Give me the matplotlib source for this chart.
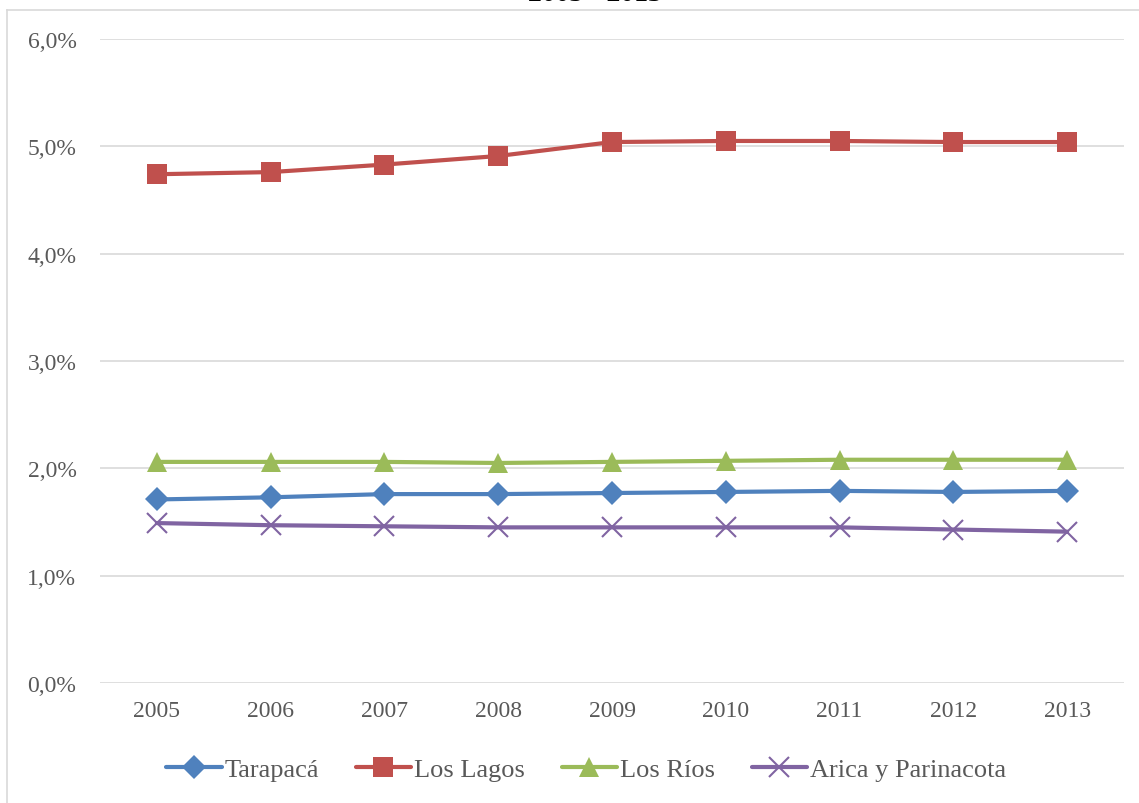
import matplotlib
matplotlib.use("Agg")
import matplotlib.pyplot as plt
from matplotlib.lines import Line2D
from matplotlib.ticker import FuncFormatter

YEARS = ["2005", "2006", "2007", "2008", "2009", "2010", "2011", "2012", "2013"]
TARAPACA = [1.71, 1.73, 1.76, 1.76, 1.77, 1.78, 1.79, 1.78, 1.79]
LOS_LAGOS = [4.74, 4.76, 4.83, 4.91, 5.04, 5.05, 5.05, 5.04, 5.04]
LOS_RIOS = [2.06, 2.06, 2.06, 2.05, 2.06, 2.07, 2.08, 2.08, 2.08]
ARICA = [1.49, 1.47, 1.46, 1.45, 1.45, 1.45, 1.45, 1.43, 1.41]
SERIES_NAMES = ["Tarapacá", "Los Lagos", "Los Ríos", "Arica y Parinacota"]

STYLES = [
    dict(color="#4F81BD", marker="D", ms=12),
    dict(color="#C0504D", marker="s", ms=14),
    dict(color="#9BBB59", marker="^", ms=15),
    dict(color="#8064A2", marker="x", ms=14, mew=1.5),
]

TEXT = "#595959"
GRID = "#d9d9d9"

plt.rcParams["font.family"] = ["Liberation Serif", "DejaVu Serif"]

fig = plt.figure(figsize=(11.39, 8.04), dpi=100)
ax = fig.add_axes([100 / 1139, 1 - 684 / 804, 1024 / 1139, 644 / 804])

x = list(range(len(YEARS)))
for vals, name, st in zip([TARAPACA, LOS_LAGOS, LOS_RIOS, ARICA], SERIES_NAMES, STYLES):
    ax.plot(x, vals, color=st["color"], lw=3, marker=st["marker"], ms=st["ms"],
            mew=st.get("mew", 0), mec=st["color"], mfc=st["color"], label=name,
            solid_capstyle="round", zorder=3)

ax.set_xlim(-0.5, len(YEARS) - 0.5)
ax.set_ylim(0, 6)
ax.set_yticks([0, 1, 2, 3, 4, 5, 6])
ax.yaxis.set_major_formatter(FuncFormatter(lambda v, _: f"{v:.1f}%".replace(".", ",")))
ax.set_xticks(x)
ax.set_xticklabels(YEARS)
ax.grid(axis="y", color=GRID, lw=1.2, zorder=0)
for s in ax.spines.values():
    s.set_visible(False)
ax.tick_params(axis="both", length=0, labelsize=17, colors=TEXT)
ax.tick_params(axis="y", pad=17)
ax.tick_params(axis="x", pad=12)

leg = fig.legend(loc="center", bbox_to_anchor=(586 / 1139, 1 - 770 / 804), ncol=4,
                 frameon=False, fontsize=19, handlelength=2.1, handletextpad=0.1,
                 columnspacing=1.4, labelcolor=TEXT)

# truncated title and chart-area border
fig.text(595 / 1139, 1 - 1 / 804, "2005 - 2013", ha="center", va="baseline",
         fontsize=20, fontweight="bold", color="black")
fig.add_artist(Line2D([7 / 1139, 1], [1 - 11 / 804, 1 - 11 / 804], color=GRID, lw=1.2))
fig.add_artist(Line2D([7 / 1139, 7 / 1139], [0, 1 - 11 / 804], color=GRID, lw=1.2))

fig.savefig("out.png", dpi=100)
